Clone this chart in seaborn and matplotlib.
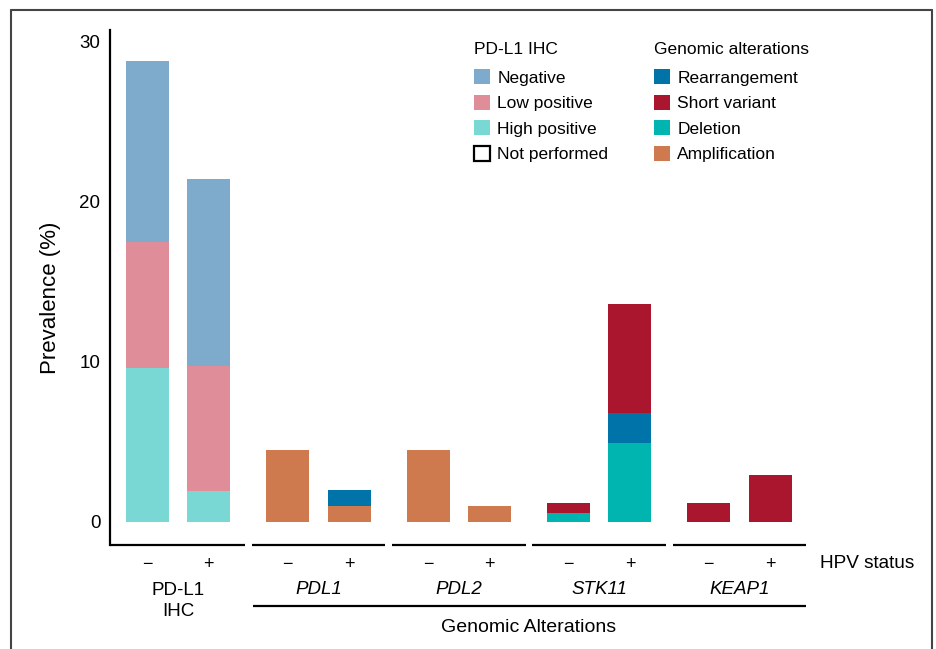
import numpy as np
import pandas as pd
import matplotlib
matplotlib.use("Agg")
import matplotlib.pyplot as plt
import matplotlib.transforms as mtransforms
from matplotlib.patches import Patch
from matplotlib.lines import Line2D
import seaborn as sns

# ---------------- data ----------------
group_labels = ["PD-L1\nIHC", "PDL1", "PDL2", "STK11", "KEAP1"]
hpv_labels = ["\u2212", "+"]

# PD-L1 IHC (HPV -, HPV +), stacked bottom -> top
ihc_high_positive = [9.6, 1.95]
ihc_low_positive = [7.9, 7.75]
ihc_negative = [11.3, 11.7]

# Genomic alterations for PDL1, PDL2, STK11, KEAP1 (each HPV -, HPV +)
amplification = [4.5, 1.0, 4.5, 1.0, 0.0, 0.0, 0.0, 0.0]
deletion = [0.0, 0.0, 0.0, 0.0, 0.56, 4.9, 0.0, 0.0]
rearrangement = [0.0, 0.96, 0.0, 0.0, 0.0, 1.9, 0.0, 0.0]
short_variant = [0.0, 0.0, 0.0, 0.0, 0.6, 6.8, 1.17, 2.9]

ihc_legend = ["Negative", "Low positive", "High positive", "Not performed"]
gen_legend = ["Rearrangement", "Short variant", "Deletion", "Amplification"]

colors = {
    "High positive": "#79d8d3",
    "Low positive": "#df8d98",
    "Negative": "#7eaacb",
    "Amplification": "#cf794e",
    "Deletion": "#00b5b0",
    "Rearrangement": "#0074a9",
    "Short variant": "#a9162e",
}
stack_order = ["High positive", "Low positive", "Negative",
               "Amplification", "Deletion", "Rearrangement", "Short variant"]

# ---------------- layout constants ----------------
OFFSET = 0.219      # half distance between - and + bars in a group
BAR_W = 0.306       # bar width in data units

rows = []
for g in range(len(group_labels)):
    for h in range(2):
        rows.append({"group": g, "hpv": h, "pos": g + (2 * h - 1) * OFFSET})
df = pd.DataFrame(rows)
for c in stack_order:
    df[c] = 0.0
df.loc[df.group == 0, "High positive"] = ihc_high_positive
df.loc[df.group == 0, "Low positive"] = ihc_low_positive
df.loc[df.group == 0, "Negative"] = ihc_negative
df.loc[df.group > 0, "Amplification"] = amplification
df.loc[df.group > 0, "Deletion"] = deletion
df.loc[df.group > 0, "Rearrangement"] = rearrangement
df.loc[df.group > 0, "Short variant"] = short_variant
cum = df[stack_order].cumsum(axis=1)
for c in stack_order:
    df["cum_" + c] = cum[c]

# ---------------- style ----------------
sns.set_style("white")
plt.rcParams["font.family"] = ["Liberation Sans", "DejaVu Sans"]
for k in ["text.color", "axes.labelcolor", "xtick.color", "ytick.color"]:
    plt.rcParams[k] = "black"

W, H = 937, 649
fig = plt.figure(figsize=(W / 100, H / 100), dpi=100)
ax_l, ax_r, ax_t, ax_b = 110, 930, 30, 545
ax = fig.add_axes([ax_l / W, 1 - ax_b / H, (ax_r - ax_l) / W, (ax_b - ax_t) / H])

native_w = 2 * OFFSET
for c in reversed(stack_order):
    sns.barplot(data=df, x="pos", y="cum_" + c, native_scale=True,
                width=BAR_W / native_w, color=colors[c], saturation=1,
                errorbar=None, edgecolor="none", linewidth=0, ax=ax)

px_per_x = 140.4
x_left = (ax_l - 178) / px_per_x
x_right = x_left + (ax_r - ax_l) / px_per_x
ax.set_xlim(x_left, x_right)
ax.set_ylim(-1.456, 30.73)

# y axis
ax.set_yticks([0, 10, 20, 30])
ax.tick_params(axis="y", length=0, pad=7, labelsize=13.5)
ax.set_ylabel("Prevalence (%)", fontsize=16)
ax.yaxis.set_label_coords(-0.06, 0.48)

# x ticks: HPV status
ax.set_xticks(df["pos"].tolist())
ax.set_xticklabels([hpv_labels[h] for h in df["hpv"]], fontsize=13)
ax.tick_params(axis="x", length=0, pad=8)
ax.set_xlabel("")

for s in ["top", "right", "bottom"]:
    ax.spines[s].set_visible(False)
ax.spines["left"].set_color("black")
ax.spines["left"].set_linewidth(1.6)

# broken x-axis segments under each group
ybot = ax.get_ylim()[0]
for g in range(len(group_labels)):
    x0 = x_left if g == 0 else g - 0.476
    ax.plot([x0, g + 0.476], [ybot, ybot], color="black", lw=1.6,
            clip_on=False, solid_capstyle="butt")

# group labels
LBL = 13.5
btrans = mtransforms.blended_transform_factory(ax.transData, fig.transFigure)
ax.text(0, 1 - 601 / H, group_labels[0], transform=btrans, ha="center", va="center",
        fontsize=LBL, linespacing=1.3)
for g in range(1, len(group_labels)):
    ax.text(g, 1 - 590 / H, group_labels[g], transform=btrans, ha="center",
            va="center", fontsize=LBL, style="italic")
ax.plot([1 - 0.469, 4 + 0.47], [1 - 606 / H] * 2, transform=btrans, color="black",
        lw=1.6, clip_on=False, solid_capstyle="butt")
ax.text(2.5, 1 - 627 / H, "Genomic Alterations", transform=btrans, ha="center",
        va="center", fontsize=14)
fig.text(820 / W, 1 - 563 / H, "HPV status", ha="left", va="center", fontsize=13.7)

# legends
def make_handles(names):
    hs = []
    for n in names:
        if n == "Not performed":
            hs.append(Patch(facecolor="white", edgecolor="black", linewidth=1.6, label=n))
        else:
            hs.append(Patch(facecolor=colors[n], edgecolor="none", label=n))
    return hs

leg_kw = dict(frameon=False, fontsize=12.5, title_fontsize=12.5, handlelength=0.92,
              handleheight=0.92, handletextpad=0.42, labelspacing=0.53,
              borderpad=0, borderaxespad=0, loc="upper left", alignment="left")
leg1 = fig.legend(handles=make_handles(ihc_legend), title="PD-L1 IHC",
                  bbox_to_anchor=(474 / W, 1 - 42 / H), **leg_kw)
leg2 = fig.legend(handles=make_handles(gen_legend), title="Genomic alterations",
                  bbox_to_anchor=(654 / W, 1 - 42 / H), **leg_kw)
leg1._legend_box.sep = 9
leg2._legend_box.sep = 9

# outer frame
frame_kw = dict(color="#444444", lw=1.5, transform=fig.transFigure)
fig.add_artist(Line2D([11 / W, 11 / W], [0, 1 - 10 / H], **frame_kw))
fig.add_artist(Line2D([11 / W, 932 / W], [1 - 10 / H, 1 - 10 / H], **frame_kw))
fig.add_artist(Line2D([932 / W, 932 / W], [0, 1 - 10 / H], **frame_kw))

fig.savefig("out.png", dpi=100)
